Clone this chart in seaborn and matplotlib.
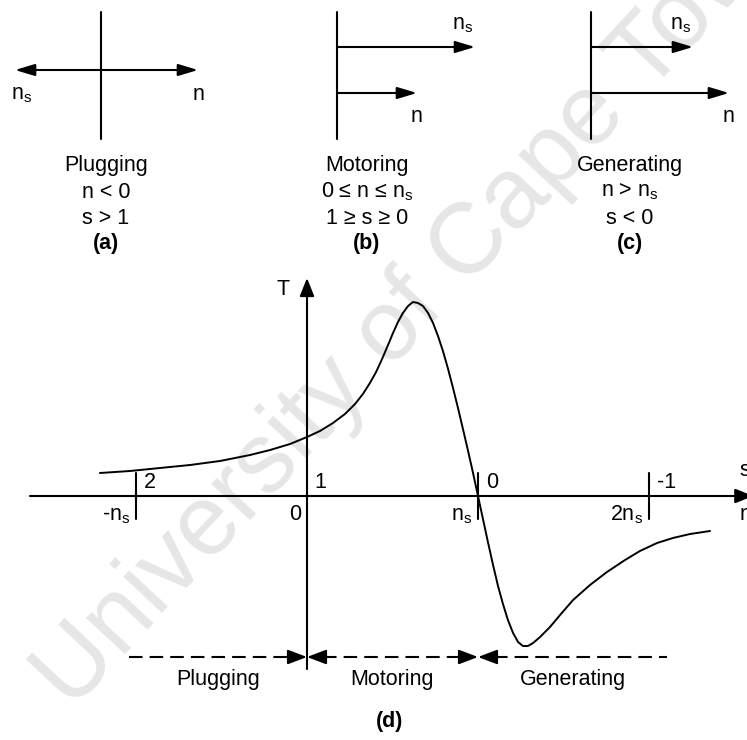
import matplotlib
matplotlib.use("Agg")
import matplotlib.pyplot as plt
import seaborn as sns

sns.set_theme(style="white")
plt.rcParams["font.family"] = ["Liberation Sans", "DejaVu Sans"]
plt.rcParams["mathtext.fontset"] = "custom"
plt.rcParams["mathtext.rm"] = "Liberation Sans"
plt.rcParams["mathtext.it"] = "Liberation Sans:italic"
plt.rcParams["mathtext.bf"] = "Liberation Sans:bold"

NS = r"n$_\mathregular{s}$"

# ---- torque-speed characteristic (speed in units of n_s, torque in arbitrary units)
speed = [-1.211, -1.035, -0.860, -0.684, -0.509, -0.333, -0.216, -0.099, 0.000,
         0.076, 0.152, 0.222, 0.281, 0.327, 0.368, 0.404, 0.439, 0.474, 0.503,
         0.532, 0.561, 0.591, 0.620, 0.649, 0.678, 0.708, 0.737, 0.766, 0.795,
         0.825, 0.854, 0.883, 0.912, 0.942, 0.971, 1.000, 1.029, 1.058, 1.088,
         1.117, 1.146, 1.175, 1.205, 1.234, 1.263, 1.292, 1.322, 1.363, 1.421,
         1.480, 1.556, 1.655, 1.754, 1.860, 1.947, 2.047, 2.140, 2.240, 2.357]
torque = [0.23, 0.25, 0.28, 0.31, 0.35, 0.41, 0.46, 0.52, 0.59,
          0.65, 0.73, 0.82, 0.92, 1.02, 1.13, 1.24, 1.37, 1.51, 1.63,
          1.74, 1.83, 1.90, 1.94, 1.93, 1.90, 1.83, 1.73, 1.60, 1.45,
          1.27, 1.08, 0.88, 0.67, 0.45, 0.23, 0.00, -0.23, -0.46, -0.69,
          -0.90, -1.08, -1.24, -1.37, -1.46, -1.50, -1.50, -1.47, -1.41, -1.31,
          -1.19, -1.04, -0.89, -0.76, -0.64, -0.55, -0.47, -0.42, -0.38, -0.35]

# axis marks: speed positions with their speed and slip labels
mark_speed = [-1, 0, 1, 2]
speed_labels = ["-" + NS, "0", NS, "2" + NS]
slip_labels = ["2", "1", "0", "-1"]

# operating regions along the speed axis
region_names = ["Plugging", "Motoring", "Generating"]
region_start = [-1.04, 0.0, 1.0]
region_end = [0.0, 1.0, 2.105]
region_heads = [(False, True), (True, True), (True, False)]

# ---- small phasor sketches (a), (b), (c)
panel_titles = ["Plugging", "Motoring", "Generating"]
panel_cond1 = ["n < 0", "0 \u2264 n \u2264 " + NS, "n > " + NS]
panel_cond2 = ["s > 1", "1 \u2265 s \u2265 0", "s < 0"]
panel_tags = ["(a)", "(b)", "(c)"]
ns_length = [-86, 138, 102]   # synchronous speed arrow, drawn length
n_length = [97, 80, 138]      # rotor speed arrow, drawn length

W, H = 747, 740
fig = plt.figure(figsize=(W / 100, H / 100), dpi=100)

# pixel-space layer for sketches and watermark
ax_px = fig.add_axes([0, 0, 1, 1])
ax_px.set_xlim(0, W)
ax_px.set_ylim(H, 0)
ax_px.axis("off")

# chart layer for the characteristic
ax = fig.add_axes([0, 0, 1, 1])
x0, kx, y0, ky = 307, 171, 496, 100
ax.set_xlim(-x0 / kx, (W - x0) / kx)
ax.set_ylim((y0 - H) / ky, y0 / ky)
ax.axis("off")
ax.patch.set_alpha(0)

FS = 15.5
LW = 1.5
txt = dict(fontsize=FS, color="black")

# watermark
ax_px.text(420, 300, "University of Cape Town", fontsize=72, color="#e6e6e6",
           rotation=47, ha="center", va="center", rotation_mode="anchor", zorder=0)


def arrow(a, tip, tail, style="-|>", hl=0.6, hw=0.18, ms=20):
    a.annotate("", xy=tip, xytext=tail, annotation_clip=False,
               arrowprops=dict(arrowstyle=f"{style},head_length={hl},head_width={hw}",
                               mutation_scale=ms, lw=LW, color="black",
                               shrinkA=0, shrinkB=0))


# ---- sketches
origins = [101, 337, 591]
text_cx = [106, 367, 630]
for i in range(3):
    ox = origins[i]
    ax_px.plot([ox, ox], [12, 139], color="black", lw=LW)
    if i == 0:
        arrow(ax_px, (ox + n_length[i], 70), (ox + ns_length[i], 70), style="<|-|>")
        ax_px.text(ox + ns_length[i] + 7, 95, NS, ha="center", va="center", **txt)
        ax_px.text(ox + n_length[i] + 1, 95, "n", ha="center", va="center", **txt)
    else:
        arrow(ax_px, (ox + ns_length[i], 47), (ox, 47))
        arrow(ax_px, (ox + n_length[i], 93), (ox, 93))
        ax_px.text(ox + ns_length[i] - 12, 25, NS, ha="center", va="center", **txt)
        ax_px.text(ox + n_length[i], 117, "n", ha="center", va="center", **txt)
    cx = text_cx[i]
    ax_px.text(cx, 165, panel_titles[i], ha="center", va="center", **txt)
    ax_px.text(cx, 192, panel_cond1[i], ha="center", va="center", **txt)
    ax_px.text(cx, 218, panel_cond2[i], ha="center", va="center", **txt)
    ax_px.text(cx, 244, panel_tags[i], ha="center", va="center",
               fontweight="bold", **txt)

# ---- characteristic axes
arrow(ax, (2.61, 0), (-1.62, 0), hl=0.55, hw=0.22)
arrow(ax, (0, 2.18), (0, -1.73), hl=0.55, hw=0.22)
ax.text(-0.14, 2.07, "T", ha="center", va="center", **txt)
ax.text(2.53, 0.26, "s", ha="left", va="center", **txt)
ax.text(2.53, -0.19, "n", ha="left", va="center", **txt)

for s, sp_lab, sl_lab in zip(mark_speed, speed_labels, slip_labels):
    if s != 0:
        ax.plot([s, s], [0.23, -0.23], color="black", lw=LW)
    ax.text(s + 0.045, 0.14, sl_lab, ha="left", va="center", **txt)
    ax.text(s - 0.035, -0.19, sp_lab, ha="right", va="center", **txt)

sns.lineplot(x=speed, y=torque, ax=ax, color="black", lw=1.4,
             sort=False, estimator=None)

# ---- operating regions
yr = -1.61
head = 16 / kx
for name, a0, a1, (hs, he) in zip(region_names, region_start, region_end, region_heads):
    l0 = a0 + (head if hs else 0)
    l1 = a1 - (head if he else 0)
    ax.plot([l0, l1], [yr, yr], color="black", lw=LW, dashes=(6.5, 3.4))
    if hs:
        arrow(ax, (a0, yr), (a0 + head, yr), hl=0.58, hw=0.22)
    if he:
        arrow(ax, (a1, yr), (a1 - head, yr), hl=0.58, hw=0.22)
    ax.text((a0 + a1) / 2 if name != "Plugging" else -0.52, -1.84, name,
            ha="center", va="center", **txt)

ax.text(0.48, -2.26, "(d)", ha="center", va="center", fontweight="bold", **txt)

fig.savefig("out.png", dpi=100)
